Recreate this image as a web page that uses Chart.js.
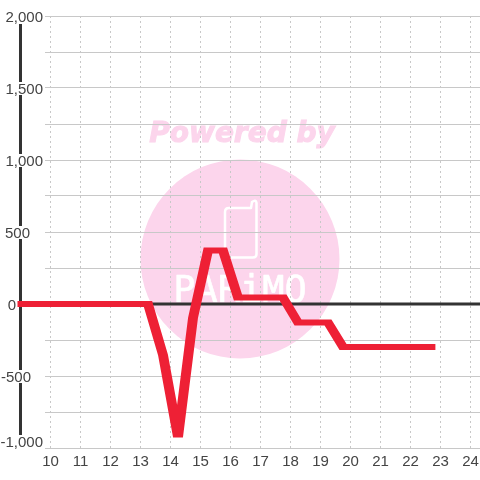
<!DOCTYPE html>
<html>
<head>
<meta charset="utf-8">
<style>
html, body { margin: 0; padding: 0; background: #fff; }
#wrap { width: 480px; height: 480px; }
</style>
<script src="https://cdn.jsdelivr.net/npm/chart.js@4/dist/chart.umd.min.js"></script>
</head>
<body>
<div id="wrap"><canvas id="chart" width="480" height="480"></canvas></div>
<script>
// series (x = hour of day)
const hours = [8.9, 13.25, 13.75, 14.25, 14.75, 15.25, 15.75, 16.25, 17.75, 18.25, 19.25, 19.75, 22.83];
const values = [0, 0, -354, -925, -97, 371, 371, 45, 45, -128, -128, -298, -298];

const yTicks = [2000, 1500, 1000, 500, 0, -500, -1000];
const yLabelRight = [43, 43, 43, 30, 16, 31, 43]; // labels are not lined up in the original
const yLabelNudge = [0, 0, 0, 0, 0, 0, -7];
const xTicks = [10, 11, 12, 13, 14, 15, 16, 17, 18, 19, 20, 21, 22, 23, 24];

const axisX = 9;
const axisEnds = [1945, -917];
const xMin = 9.8167;
const xMax = 24.3167;

const textColor = '#444';
const gridColor = '#c8c8c8';
const font = '15px "Liberation Sans", Arial, sans-serif';
const penStretch = 1.65; // the red line is wider on its slopes than on its flats

const watermark = {
    id: 'watermark',
    beforeDraw(c) {
        const ctx = c.ctx;
        ctx.save();
        ctx.fillStyle = '#fcd5ec';
        ctx.strokeStyle = '#fcd5ec';
        ctx.beginPath();
        ctx.arc(240, 259, 99.5, 0, Math.PI * 2);
        ctx.fill();
        ctx.font = 'italic bold 28px "DejaVu Sans", sans-serif';
        ctx.textAlign = 'center';
        ctx.textBaseline = 'middle';
        ctx.lineWidth = 1;
        ctx.fillText('Powered by', 242, 135);
        ctx.strokeText('Powered by', 242, 135);
        // phone outline
        ctx.strokeStyle = '#fff';
        ctx.lineWidth = 2.5;
        ctx.lineJoin = 'round';
        ctx.beginPath();
        ctx.moveTo(229, 208);
        ctx.lineTo(251, 208);
        ctx.lineTo(252, 202);
        ctx.quadraticCurveTo(256, 199, 256.5, 203);
        ctx.lineTo(256.5, 254);
        ctx.quadraticCurveTo(256.5, 257.5, 253, 257.5);
        ctx.lineTo(229, 257.5);
        ctx.quadraticCurveTo(225, 257.5, 225, 254);
        ctx.lineTo(225, 212);
        ctx.quadraticCurveTo(225, 208, 229, 208);
        ctx.stroke();
        ctx.fillStyle = '#fff';
        ctx.lineWidth = 0.6;
        ctx.font = '37px "DejaVu Sans Mono", monospace';
        ctx.textBaseline = 'alphabetic';
        ctx.fillText('PARiMO', 240, 302);
        ctx.strokeText('PARiMO', 240, 302);
        ctx.restore();
    }
};

const yLabels = {
    id: 'yLabels',
    afterDatasetsDraw(c) {
        const ctx = c.ctx;
        const y = c.scales.y;
        ctx.save();
        ctx.font = font;
        ctx.textAlign = 'right';
        ctx.textBaseline = 'middle';
        yTicks.forEach((v, i) => {
            const px = y.getPixelForValue(v) + yLabelNudge[i];
            const text = v.toLocaleString('en-US');
            const right = yLabelRight[i];
            const w = ctx.measureText(text).width;
            if (right - w < 22 && right > 19) {
                ctx.fillStyle = '#fff';
                ctx.fillRect(right - w, px - 6, w, 13);
            }
            ctx.fillStyle = textColor;
            ctx.fillText(text, right, px + 1.5);
        });
        ctx.restore();
    }
};

// stretch the pen sideways only while the red series is stroked
const widePen = {
    id: 'widePen',
    beforeDatasetDraw(c, args) {
        if (args.index !== 0) return;
        const ctx = c.ctx;
        const stroke = ctx.stroke;
        ctx.stroke = function (path) {
            ctx.save();
            ctx.miterLimit = 2.5;
            const p = new Path2D();
            if (path) p.addPath(path, new DOMMatrix().scale(1 / penStretch, 1));
            ctx.scale(penStretch, 1);
            stroke.call(ctx, p);
            ctx.restore();
        };
    },
    afterDatasetDraw(c, args) {
        if (args.index === 0) delete c.ctx.stroke;
    }
};

new Chart(document.getElementById('chart'), {
    type: 'line',
    data: {
        datasets: [
            {
                data: hours.map((h, i) => ({ x: h, y: values[i] })),
                borderColor: '#ee2035',
                borderWidth: 6,
                borderJoinStyle: 'miter',
                pointRadius: 0,
                tension: 0,
                clip: false,
                order: 1
            },
            {
                data: [{ x: axisX, y: 0 }, { x: xMax, y: 0 }],
                borderColor: '#333',
                borderWidth: 3,
                pointRadius: 0,
                clip: false,
                order: 2
            },
            {
                data: axisEnds.map(v => ({ x: axisX, y: v })),
                borderColor: '#333',
                borderWidth: 3,
                pointRadius: 0,
                clip: false,
                order: 3
            }
        ]
    },
    options: {
        responsive: false,
        animation: false,
        layout: { padding: { top: 16, right: 0, bottom: 0, left: 0 } },
        plugins: { legend: { display: false }, tooltip: { enabled: false } },
        scales: {
            x: {
                type: 'linear',
                min: xMin,
                max: xMax,
                afterBuildTicks(s) { s.ticks = xTicks.map(v => ({ value: v })); },
                afterFit(s) {
                    s.height = 32;
                    s.paddingLeft = 0;
                    s.paddingRight = 0;
                },
                border: { display: false, dash: [2, 3] },
                grid: { color: gridColor, drawTicks: false },
                ticks: { color: textColor, font: { family: '"Liberation Sans", Arial, sans-serif', size: 15 }, maxRotation: 0, autoSkip: false, padding: 5 }
            },
            y: {
                min: -1000,
                max: 2000,
                afterBuildTicks(s) {
                    const t = [];
                    for (let v = -1000; v <= 2000; v += 250) t.push({ value: v });
                    s.ticks = t;
                },
                afterFit(s) { s.width = 45; },
                border: { display: false },
                grid: { color: gridColor, lineWidth: 1, drawTicks: false },
                ticks: { display: false }
            }
        }
    },
    plugins: [watermark, yLabels, widePen]
});
</script>
</body>
</html>
